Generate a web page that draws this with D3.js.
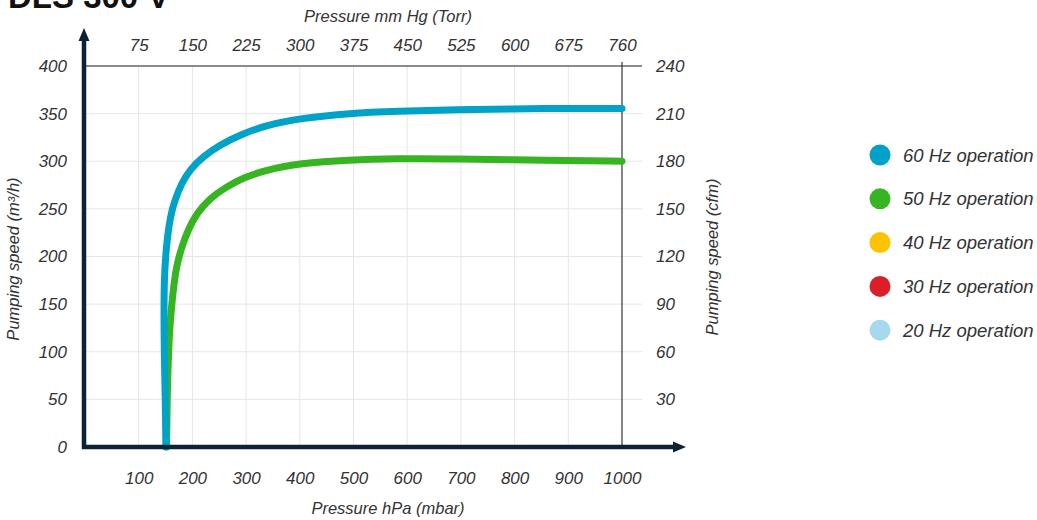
<!DOCTYPE html>
<html><head><meta charset="utf-8">
<script src="https://cdn.jsdelivr.net/npm/d3@7/dist/d3.min.js"></script>
<style>
body{margin:0;background:#fff;}
svg text{font-family:"Liberation Sans",Arial,sans-serif;}
</style></head>
<body><svg id="c" width="1037" height="520"></svg>
<script>
const title = "DLS 300 V";
const xTicks = [100,200,300,400,500,600,700,800,900,1000];
const topTickLabels = ["75","150","225","300","375","450","525","600","675","760"];
const yTicks = [0,50,100,150,200,250,300,350,400];
const rightTickLabels = ["","30","60","90","120","150","180","210","240"];
const legendLabels = ["60 Hz operation","50 Hz operation","40 Hz operation","30 Hz operation","20 Hz operation"];
const legendColors = ["#00a3c7","#37b422","#fdc300","#d81f2a","#a8d7f0"];
// pressure hPa, speed m3/h
const hz60 = [[150.5,0],[150.5,4],[150,35],[148.7,70],[147.5,105],[147,140],[147.5,175],[150,200],[153.6,221],[159,242],[167,259],[180,277],[195,291],[220,305],[251,317],[288,327.6],[338,338],[400,345],[493,350.5],[585,352.5],[678,354],[864,355.5],[1000,355.5],[1000,355.5]];
const hz50 = [[152,0],[152,0],[153,53],[155,88],[157,119],[161,147],[165,168],[170,189],[180,210],[192,228],[207.6,245],[232,261],[263,273],[294,282.5],[338,291],[400,297.8],[490,301.5],[585,302.8],[678,302.6],[864,301],[1000,300],[1000,300]];

const svg = d3.select("#c");
const x = d3.scaleLinear().domain([0,1000]).range([85,622]);
const y = d3.scaleLinear().domain([0,400]).range([447,66]);
const txt = "#333";
const ff = "Liberation Sans, Arial, sans-serif";

// title
svg.append("text").attr("x",8).attr("y",8).attr("font-size",33).attr("font-weight","bold").attr("fill","#111").text(title);

// horizontal gridlines
svg.append("g").selectAll("line").data(yTicks.filter(d=>d>0&&d<400)).join("line")
  .attr("x1",84).attr("x2",642).attr("y1",d=>y(d)).attr("y2",d=>y(d))
  .attr("stroke","#e6e6e6").attr("stroke-width",1);
// vertical gridlines
svg.append("g").selectAll("line").data(xTicks.filter(d=>d<1000)).join("line")
  .attr("x1",d=>x(d)).attr("x2",d=>x(d)).attr("y1",y(400)).attr("y2",y(0))
  .attr("stroke","#e6e6e6").attr("stroke-width",1);
// top line
svg.append("line").attr("x1",84).attr("x2",642).attr("y1",y(400)).attr("y2",y(400)).attr("stroke","#666").attr("stroke-width",1.3);
// right line
svg.append("line").attr("x1",x(1000)).attr("x2",x(1000)).attr("y1",62).attr("y2",y(0)).attr("stroke","#333").attr("stroke-width",1.2);

function styleTicks(g){
  g.select(".domain").remove();
  g.selectAll("text").attr("font-size",17).attr("font-style","italic").attr("fill",txt).attr("font-family",ff);
}
const gb = svg.append("g").attr("transform","translate(0,472)")
  .call(d3.axisBottom(x).tickValues(xTicks).tickSize(0).tickPadding(0).tickFormat(d3.format("d")));
styleTicks(gb);
const gt = svg.append("g").attr("transform","translate(0,51)")
  .call(d3.axisTop(x).tickValues(xTicks).tickSize(0).tickPadding(0).tickFormat((d,i)=>topTickLabels[i]));
styleTicks(gt);
const gl = svg.append("g").attr("transform","translate(67,0)")
  .call(d3.axisLeft(y).tickValues(yTicks).tickSize(0).tickPadding(0).tickFormat(d3.format("d")));
styleTicks(gl);
const gr = svg.append("g").attr("transform","translate(656,0)")
  .call(d3.axisRight(y).tickValues(yTicks).tickSize(0).tickPadding(0).tickFormat((d,i)=>rightTickLabels[i]));
styleTicks(gr);

// axis titles
const tfs = 16.5;
svg.append("text").attr("x",388).attr("y",22).attr("text-anchor","middle").attr("font-size",tfs).attr("font-style","italic").attr("fill",txt).text("Pressure mm Hg (Torr)");
svg.append("text").attr("x",388).attr("y",514).attr("text-anchor","middle").attr("font-size",tfs).attr("font-style","italic").attr("fill",txt).text("Pressure hPa (mbar)");
svg.append("text").attr("transform","translate(19,259) rotate(-90)").attr("text-anchor","middle").attr("font-size",tfs).attr("font-style","italic").attr("fill",txt).text("Pumping speed (m³/h)");
svg.append("text").attr("transform","translate(718,257) rotate(-90)").attr("text-anchor","middle").attr("font-size",tfs).attr("font-style","italic").attr("fill",txt).text("Pumping speed (cfm)");

// curves
const line = d3.line().x(d=>x(d[0])).y(d=>y(d[1])).curve(d3.curveBasis);
[[hz50,legendColors[1]],[hz60,legendColors[0]]].forEach(([data,col])=>{
  svg.append("path").datum(data).attr("d",line).attr("fill","none").attr("stroke",col)
    .attr("stroke-width",7).attr("stroke-linecap","round").attr("stroke-linejoin","round");
});

// axes (thick with arrows)
const axisCol = "#0c2236";
svg.append("line").attr("x1",84).attr("x2",84).attr("y1",449).attr("y2",38).attr("stroke",axisCol).attr("stroke-width",4.5);
svg.append("path").attr("d","M84,28 L89.5,41 L78.5,41 Z").attr("fill",axisCol);
svg.append("line").attr("x1",82).attr("x2",675).attr("y1",447).attr("y2",447).attr("stroke",axisCol).attr("stroke-width",4.5);
svg.append("path").attr("d","M686,447 L673,441.5 L673,452.5 Z").attr("fill",axisCol);

// legend
const lg = svg.append("g").selectAll("g").data(legendLabels).join("g")
  .attr("transform",(d,i)=>`translate(880,${155+i*43.8})`);
lg.append("circle").attr("r",10.5).attr("fill",(d,i)=>legendColors[i]);
lg.append("text").attr("x",23).attr("y",6.5).attr("font-size",18.5).attr("font-style","italic").attr("fill",txt).text(d=>d);
</script></body></html>
